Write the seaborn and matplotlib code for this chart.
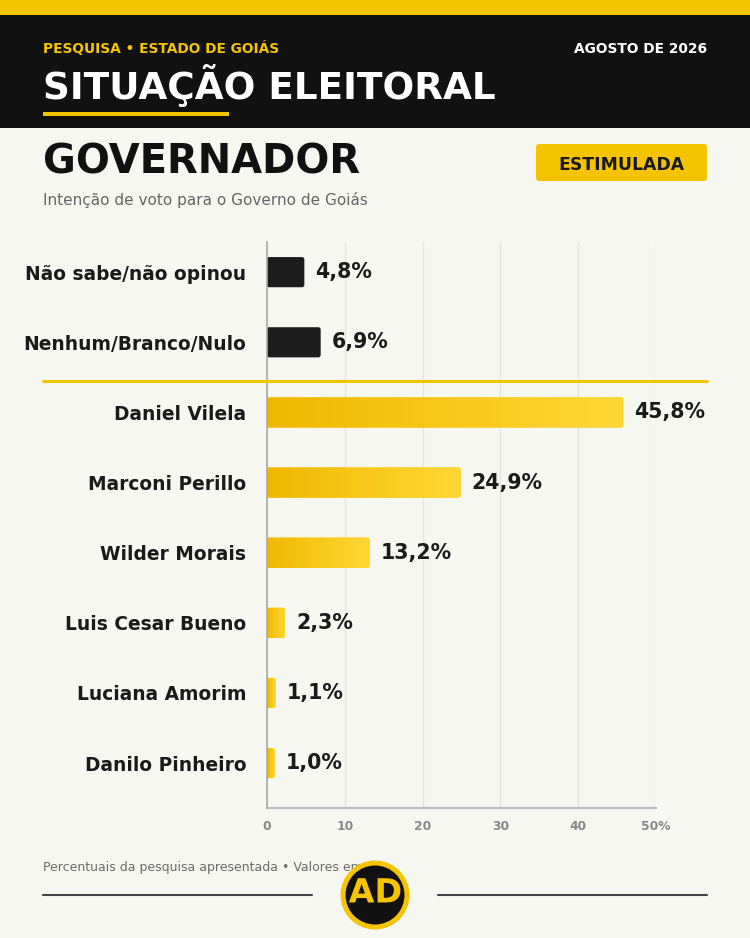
import numpy as np
import pandas as pd
import matplotlib
matplotlib.use("Agg")
import matplotlib.pyplot as plt
import seaborn as sns
from matplotlib.patches import Rectangle, FancyBboxPatch, Circle
from matplotlib.lines import Line2D
import matplotlib.transforms as mtransforms
import matplotlib.patheffects as pe
from matplotlib.colors import LinearSegmentedColormap

# ---------------- data ----------------
categories = ["Não sabe/não opinou", "Nenhum/Branco/Nulo", "Daniel Vilela",
              "Marconi Perillo", "Wilder Morais", "Luis Cesar Bueno",
              "Luciana Amorim", "Danilo Pinheiro"]
values = [4.8, 6.9, 45.8, 24.9, 13.2, 2.3, 1.1, 1.0]
groups = ["outros", "outros", "candidato", "candidato", "candidato",
          "candidato", "candidato", "candidato"]
x_ticks = [0, 10, 20, 30, 40, 50]
x_tick_labels = ["0", "10", "20", "30", "40", "50%"]

# ---------------- style ----------------
sns.set_theme(style="white")
plt.rcParams['font.family'] = ['DejaVu Sans']

BG = "#F7F7F2"
YEL = "#F5C400"
DARK = "#111111"
TXT = "#1A1A1A"
W, H = 750, 938


def fx(px):
    return px / W


def fy(py):
    return 1 - py / H


fig = plt.figure(figsize=(7.5, 9.38), dpi=100, facecolor=BG)

# header
fig.add_artist(Rectangle((0, fy(15)), 1, 15 / H, transform=fig.transFigure,
                         facecolor=YEL, edgecolor='none'))
fig.add_artist(Rectangle((0, fy(128)), 1, (128 - 15) / H, transform=fig.transFigure,
                         facecolor=DARK, edgecolor='none'))
fig.text(fx(43), fy(53), "PESQUISA • ESTADO DE GOIÁS", color=YEL, fontsize=9.9,
         fontweight='bold', va='baseline', ha='left')
fig.text(fx(707), fy(53), "AGOSTO DE 2026", color="white", fontsize=9.9,
         fontweight='bold', va='baseline', ha='right')
fig.text(fx(43), fy(99), "SITUAÇÃO ELEITORAL", color="white", fontsize=26.9,
         fontweight='bold', va='baseline', ha='left')
fig.add_artist(Rectangle((fx(43), fy(116)), fx(229) - fx(43), 4 / H,
                         transform=fig.transFigure, facecolor=YEL, edgecolor='none'))

# section title
fig.text(fx(43), fy(174), "GOVERNADOR", color=DARK, fontsize=28.8,
         fontweight='bold', va='baseline', ha='left')
fig.text(fx(43), fy(205), "Intenção de voto para o Governo de Goiás", color="#666666",
         fontsize=11, va='baseline', ha='left')
fig.add_artist(FancyBboxPatch((5.36, (H - 181) / 100), 1.71, 0.37,
                              boxstyle="round,pad=0,rounding_size=0.03",
                              transform=fig.dpi_scale_trans, facecolor=YEL,
                              edgecolor='none'))
fig.text(fx(621.5), fy(162.5), "ESTIMULADA", color=TXT, fontsize=12.4,
         fontweight='bold', va='center_baseline', ha='center')

# ---------------- chart ----------------
ax = fig.add_axes([fx(267), fy(808), fx(656) - fx(267), fy(242) - fy(808)])
ax.set_facecolor(BG)
df = pd.DataFrame({"nome": categories, "pct": values, "grupo": groups})
palette = {"outros": "#1C1C1C", "candidato": YEL}
sns.barplot(data=df, y="nome", x="pct", hue="grupo", palette=palette,
            dodge=False, width=0.43, legend=False, ax=ax, orient="h")

ax.set_xlim(0, 50)
ax.set_ylim(7.64, -0.43)

cmap = LinearSegmentedColormap.from_list("grad", ["#F0B800", "#FFD835"])
grad = np.linspace(0, 1, 256).reshape(1, -1)

for p in list(ax.patches):
    x0, y0 = p.get_x(), p.get_y()
    w, h = p.get_width(), p.get_height()
    if w <= 0:
        continue
    idx = int(round(y0 + h / 2))
    p.set_visible(False)
    fb = FancyBboxPatch((x0, y0), w, h, boxstyle="round,pad=0,rounding_size=0.3",
                        mutation_aspect=0.11, edgecolor='none', zorder=3,
                        facecolor="#1C1C1C" if groups[idx] == "outros" else YEL)
    ax.add_patch(fb)
    if groups[idx] == "candidato":
        im = ax.imshow(grad, extent=(x0, x0 + w, y0 + h, y0), cmap=cmap,
                       aspect='auto', interpolation='bilinear', zorder=3.5)
        im.set_clip_path(fb)
    lbl = f"{values[idx]:.1f}".replace(".", ",") + "%"
    ax.annotate(lbl, xy=(w, idx), xytext=(8, 0), textcoords='offset points',
                va='center', ha='left', fontsize=14.8, fontweight='bold', color=TXT)

ax.set_xlim(0, 50)
ax.set_ylim(7.64, -0.43)

ax.xaxis.grid(True, color="#E4E4E0", linewidth=1)
ax.yaxis.grid(False)
ax.set_axisbelow(True)
for s in ["top", "right"]:
    ax.spines[s].set_visible(False)
ax.spines["left"].set_color("#AAAAAA")
ax.spines["left"].set_linewidth(1.2)
ax.spines["bottom"].set_color("#BBBBBB")
ax.spines["bottom"].set_linewidth(1.5)
ax.spines["left"].set_zorder(4)

ax.set_yticks(range(len(categories)))
ax.set_yticklabels(categories, fontsize=13.4, fontweight='bold', color=TXT)
ax.set_xticks(x_ticks)
ax.set_xticklabels(x_tick_labels, fontsize=8.8, fontweight='bold', color="#888888")
ax.tick_params(axis='y', length=0, pad=15)
ax.tick_params(axis='x', length=0, pad=8.6)
ax.set_xlabel("")
ax.set_ylabel("")

# divider between "others" and candidates
trans = mtransforms.blended_transform_factory(fig.transFigure, ax.transData)
fig.add_artist(Line2D([fx(43), fx(707)], [1.555, 1.555], transform=trans,
                      color=YEL, linewidth=2.2))

# ---------------- footer ----------------
fig.text(fx(43), fy(871), "Percentuais da pesquisa apresentada • Valores em %",
         color="#6A6A6A", fontsize=9.0, va='baseline', ha='left', zorder=2)
fig.add_artist(Line2D([fx(43), fx(312)], [fy(895), fy(895)], transform=fig.transFigure,
                      color="#444444", linewidth=1.5))
fig.add_artist(Line2D([fx(438), fx(707)], [fy(895), fy(895)], transform=fig.transFigure,
                      color="#444444", linewidth=1.5))
fig.add_artist(Circle((3.75, (H - 895) / 100), 0.32, transform=fig.dpi_scale_trans,
                      facecolor=DARK, edgecolor=YEL, linewidth=3.6, zorder=10))
fig.text(fx(375.5), fy(893), "AD", color=YEL, fontsize=24, fontweight='bold',
         va='center', ha='center', zorder=11,
         path_effects=[pe.withStroke(linewidth=1.5, foreground=DARK)])

fig.savefig("out.png", dpi=100, facecolor=BG)
